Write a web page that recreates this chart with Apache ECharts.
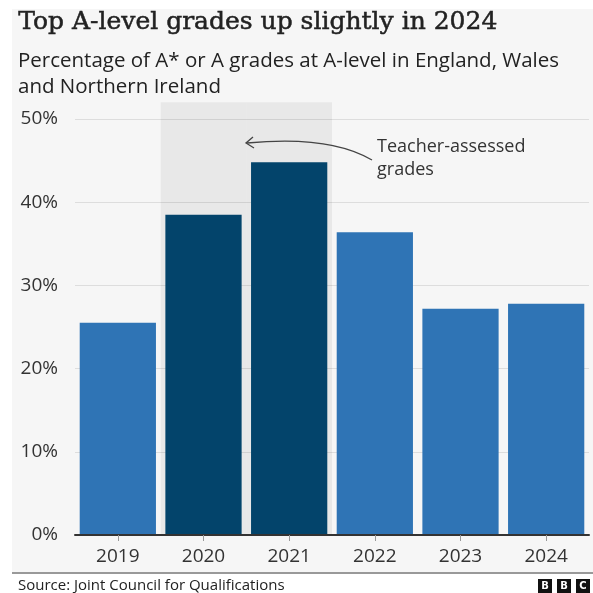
<!DOCTYPE html>
<html>
<head>
<meta charset="utf-8">
<script src="https://cdn.jsdelivr.net/npm/echarts@6/dist/echarts.min.js"></script>
<style>
html,body{margin:0;padding:0;background:#ffffff;}
#c{width:593px;height:593px;}
</style>
</head>
<body>
<div id="c"></div>
<script>
const categories = ['2019', '2020', '2021', '2022', '2023', '2024'];
const values = [25.5, 38.5, 44.8, 36.4, 27.2, 27.8];
const teacherAssessed = [false, true, true, false, false, false];
const shadeValues = [null, 52, 52, null, null, null];
const yTicks = [0, 10, 20, 30, 40, 50];

const chart = echarts.init(document.getElementById('c'));
const sans = '"Open Sans", "Noto Sans", sans-serif';

chart.setOption({
  backgroundColor: '#ffffff',
  animation: false,
  grid: { left: 75, right: 4, top: 119, bottom: 58 },
  xAxis: [
    {
      type: 'category', data: categories,
      axisLine: { lineStyle: { color: '#333333', width: 2 } },
      axisTick: { show: true, alignWithLabel: true, length: 6, lineStyle: { color: '#999999' } },
      axisLabel: { color: '#333333', fontSize: 19, fontFamily: sans, margin: 12 },
      z: 5
    },
    {
      type: 'category', data: categories, show: false
    }
  ],
  yAxis: {
    type: 'value', min: 0, max: 50, interval: 10,
    axisLine: { show: false }, axisTick: { show: false },
    axisLabel: { color: '#333333', fontSize: 19, fontFamily: sans, margin: 17,
      formatter: v => yTicks.includes(v) ? v + '%' : '' },
    splitLine: { lineStyle: { color: '#dddddd', width: 1 } }
  },
  series: [
    {
      type: 'bar', xAxisIndex: 1, data: shadeValues, barCategoryGap: '0%',
      clip: false, silent: true, z: 1,
      itemStyle: { color: 'rgba(0,0,0,0.055)' }
    },
    {
      type: 'bar', xAxisIndex: 0, barCategoryGap: '11%', z: 3,
      data: values.map((v, i) => ({ value: v, itemStyle: { color: teacherAssessed[i] ? '#03446b' : '#2f74b5' } }))
    }
  ],
  graphic: [
    { type: 'rect', shape: { x: 12, y: 9, width: 581, height: 564 }, style: { fill: '#f6f6f6' }, z: -10, silent: true },
    { type: 'line', shape: { x1: 12, y1: 573, x2: 593, y2: 573 }, style: { stroke: '#999999', lineWidth: 2 }, z: 10 },
    { type: 'text', left: 18, top: 10, style: { text: 'Top A-level grades up slightly in 2024', fill: '#222222', stroke: '#222222', lineWidth: 0.5, font: '25px "DejaVu Serif", serif' }, z: 10 },
    { type: 'text', left: 18, top: 48, style: { text: 'Percentage of A* or A grades at A-level in England, Wales\nand Northern Ireland', fill: '#222222', font: '20.5px ' + sans, lineHeight: 26 }, z: 10 },
    { type: 'text', left: 18, top: 578, style: { text: 'Source: Joint Council for Qualifications', fill: '#222222', font: '15px ' + sans }, z: 10 },
    { type: 'text', left: 377, top: 135, style: { text: 'Teacher-assessed\ngrades', fill: '#333333', font: '18px ' + sans, lineHeight: 23 }, z: 10 },
    { type: 'bezierCurve', shape: { x1: 372, y1: 160, cpx1: 330, cpy1: 135, x2: 247, y2: 143 }, style: { stroke: '#444444', lineWidth: 1.3, fill: null }, z: 10 },
    { type: 'polyline', shape: { points: [[253, 137], [246, 143], [254, 148]] }, style: { stroke: '#444444', lineWidth: 1.3, fill: null }, z: 10 },
    { type: 'rect', shape: { x: 538, y: 579, width: 14, height: 14 }, style: { fill: '#111111' }, z: 10 },
    { type: 'rect', shape: { x: 557, y: 579, width: 14, height: 14 }, style: { fill: '#111111' }, z: 10 },
    { type: 'rect', shape: { x: 576, y: 579, width: 14, height: 14 }, style: { fill: '#111111' }, z: 10 },
    { type: 'text', x: 545, y: 586, style: { text: 'B', fill: '#ffffff', font: 'bold 10px "DejaVu Sans", sans-serif', align: 'center', verticalAlign: 'middle' }, z: 11 },
    { type: 'text', x: 564, y: 586, style: { text: 'B', fill: '#ffffff', font: 'bold 10px "DejaVu Sans", sans-serif', align: 'center', verticalAlign: 'middle' }, z: 11 },
    { type: 'text', x: 583, y: 586, style: { text: 'C', fill: '#ffffff', font: 'bold 10px "DejaVu Sans", sans-serif', align: 'center', verticalAlign: 'middle' }, z: 11 }
  ]
});
</script>
</body>
</html>
